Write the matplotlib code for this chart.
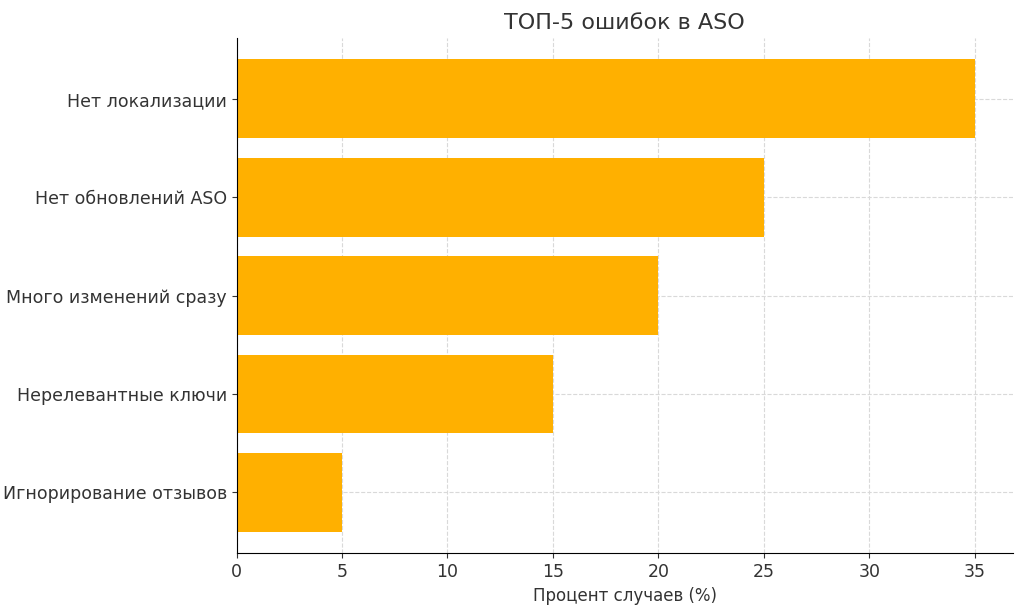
import matplotlib as mpl
mpl.use('Agg')
import matplotlib.pyplot as plt

categories = ["Нет локализации", "Нет обновлений ASO", "Много изменений сразу",
              "Нерелевантные ключи", "Игнорирование отзывов"]
values = [35, 25, 20, 15, 5]

plt.rcParams['font.family'] = ['DejaVu Sans']
fig = plt.figure(figsize=(10.24, 6.1), dpi=100)
ax = fig.add_axes([0.231, 0.093, 0.758, 0.845])
ax.barh(categories[::-1], values[::-1], color="#FFB000", height=0.8, zorder=2)
ax.set_xlim(0, 36.8)
ax.set_ylim(-0.62, 4.62)
ax.set_xticks(range(0, 40, 5))
ax.grid(True, linestyle='--', color='#d9d9d9', linewidth=0.8, zorder=0)
ax.set_axisbelow(True)
for s in ['top', 'right']:
    ax.spines[s].set_visible(False)
ax.tick_params(labelsize=12.5, colors='#333333')
ax.set_xlabel("Процент случаев (%)", fontsize=12, color='#333333')
ax.set_title("ТОП-5 ошибок в ASO", fontsize=16, color='#333333')
plt.savefig("out.png", dpi=100)
